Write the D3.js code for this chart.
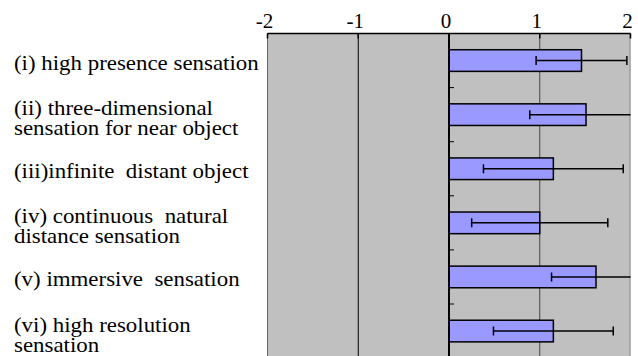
<!DOCTYPE html>
<html>
<head>
<meta charset="utf-8">
<script src="https://cdn.jsdelivr.net/npm/d3@7"></script>
<style>
  body { margin: 0; background: #fff; }
</style>
</head>
<body>
<svg id="chart" width="638" height="356"></svg>
<script>
// questionnaire items (multi-line labels) and scores
const items = [
  ['(i) high presence sensation'],
  ['(ii) three-dimensional', 'sensation for near object'],
  ['(iii)infinite  distant object'],
  ['(iv) continuous  natural', 'distance sensation'],
  ['(v) immersive  sensation'],
  ['(vi) high resolution', 'sensation']
];
const means = [1.46, 1.51, 1.15, 1.00, 1.62, 1.15];
const sds = [0.50, 0.62, 0.77, 0.75, 0.49, 0.66];
const xTicks = [-2, -1, 0, 1, 2];

const serif = "'Liberation Serif', 'Times New Roman', 'DejaVu Serif', serif";

const svg = d3.select('#chart');
const plot = { left: 267.5, right: 630.5, top: 33.5, band: 54.1 };
const H = plot.band * items.length;

const x = d3.scaleLinear().domain([-2, 2]).range([plot.left, plot.right]);
const y = d3.scaleBand()
  .domain(d3.range(items.length))
  .range([plot.top, plot.top + H])
  .paddingInner(0.6).paddingOuter(0.3);

svg.append('defs').append('clipPath').attr('id', 'clip')
  .append('rect')
  .attr('x', plot.left).attr('y', plot.top)
  .attr('width', plot.right - plot.left).attr('height', H);

// plot background
svg.append('rect')
  .attr('x', plot.left).attr('y', plot.top)
  .attr('width', plot.right - plot.left).attr('height', H)
  .attr('fill', '#c0c0c0');

// vertical grid lines
svg.append('g').selectAll('line')
  .data([-1, 1])
  .join('line')
  .attr('x1', d => x(d)).attr('x2', d => x(d))
  .attr('y1', plot.top).attr('y2', plot.top + H)
  .attr('stroke', d => d < 0 ? '#000' : '#444')
  .attr('stroke-width', 1);

// borders
svg.append('line')
  .attr('x1', x(-2)).attr('x2', x(-2))
  .attr('y1', plot.top).attr('y2', plot.top + H)
  .attr('stroke', '#666').attr('stroke-width', 1);
svg.append('line')
  .attr('x1', x(2) - 0.5).attr('x2', x(2) - 0.5)
  .attr('y1', plot.top).attr('y2', plot.top + H)
  .attr('stroke', '#8a8a8a').attr('stroke-width', 1);

// bars
const rows = items.map((lab, i) => ({ i, lab, m: means[i], s: sds[i] }));

svg.append('g').selectAll('rect')
  .data(rows)
  .join('rect')
  .attr('x', x(0))
  .attr('y', d => y(d.i))
  .attr('width', d => x(d.m) - x(0))
  .attr('height', y.bandwidth())
  .attr('fill', '#9999ff')
  .attr('stroke', '#000')
  .attr('stroke-width', 1.5);

// error bars (clipped at the plot edge)
const eb = svg.append('g').attr('clip-path', 'url(#clip)')
  .selectAll('g')
  .data(rows)
  .join('g')
  .attr('stroke', '#000')
  .attr('stroke-width', 1.5);

eb.append('line')
  .attr('x1', d => x(d.m - d.s)).attr('x2', d => x(d.m + d.s))
  .attr('y1', d => y(d.i) + y.bandwidth() / 2)
  .attr('y2', d => y(d.i) + y.bandwidth() / 2);

eb.selectAll('line.cap')
  .data(d => [d.m - d.s, d.m + d.s].map(v => ({ v, i: d.i })))
  .join('line')
  .attr('class', 'cap')
  .attr('x1', d => x(d.v)).attr('x2', d => x(d.v))
  .attr('y1', d => y(d.i) + y.bandwidth() / 2 - 4.5)
  .attr('y2', d => y(d.i) + y.bandwidth() / 2 + 4.5);

// zero axis with category separators
svg.append('line')
  .attr('x1', x(0)).attr('x2', x(0))
  .attr('y1', plot.top).attr('y2', plot.top + H)
  .attr('stroke', '#000').attr('stroke-width', 2);

svg.append('g').selectAll('line')
  .data(d3.range(1, items.length))
  .join('line')
  .attr('x1', x(0)).attr('x2', x(0) + 5)
  .attr('y1', d => plot.top + d * plot.band)
  .attr('y2', d => plot.top + d * plot.band)
  .attr('stroke', '#000').attr('stroke-width', 1);

// top axis
const axis = svg.append('g');
axis.append('line')
  .attr('x1', x(-2)).attr('x2', x(2))
  .attr('y1', plot.top).attr('y2', plot.top)
  .attr('stroke', '#000').attr('stroke-width', 1.5);
axis.selectAll('line.tick')
  .data(xTicks)
  .join('line')
  .attr('class', 'tick')
  .attr('x1', d => x(d)).attr('x2', d => x(d))
  .attr('y1', plot.top).attr('y2', plot.top + 5)
  .attr('stroke', '#000').attr('stroke-width', 1.5);
axis.selectAll('text')
  .data(xTicks)
  .join('text')
  .attr('x', d => x(d) - 3)
  .attr('y', 27.5)
  .attr('text-anchor', 'middle')
  .attr('font-family', serif)
  .attr('font-size', 21)
  .text(d => d);

// category labels
const lab = svg.append('g')
  .selectAll('text')
  .data(rows)
  .join('text')
  .attr('transform', d => {
    const c = y(d.i) + y.bandwidth() / 2;
    const base = d.lab.length > 1 ? c + 0.5 : c + 9;
    return `translate(14,${base}) scale(1.145,1)`;
  })
  .attr('font-family', serif)
  .attr('font-size', 20)
  .style('white-space', 'pre');

lab.selectAll('tspan')
  .data(d => d.lab)
  .join('tspan')
  .attr('x', 0)
  .attr('dy', (d, k) => k === 0 ? 0 : 20)
  .text(d => d);
</script>
</body>
</html>
